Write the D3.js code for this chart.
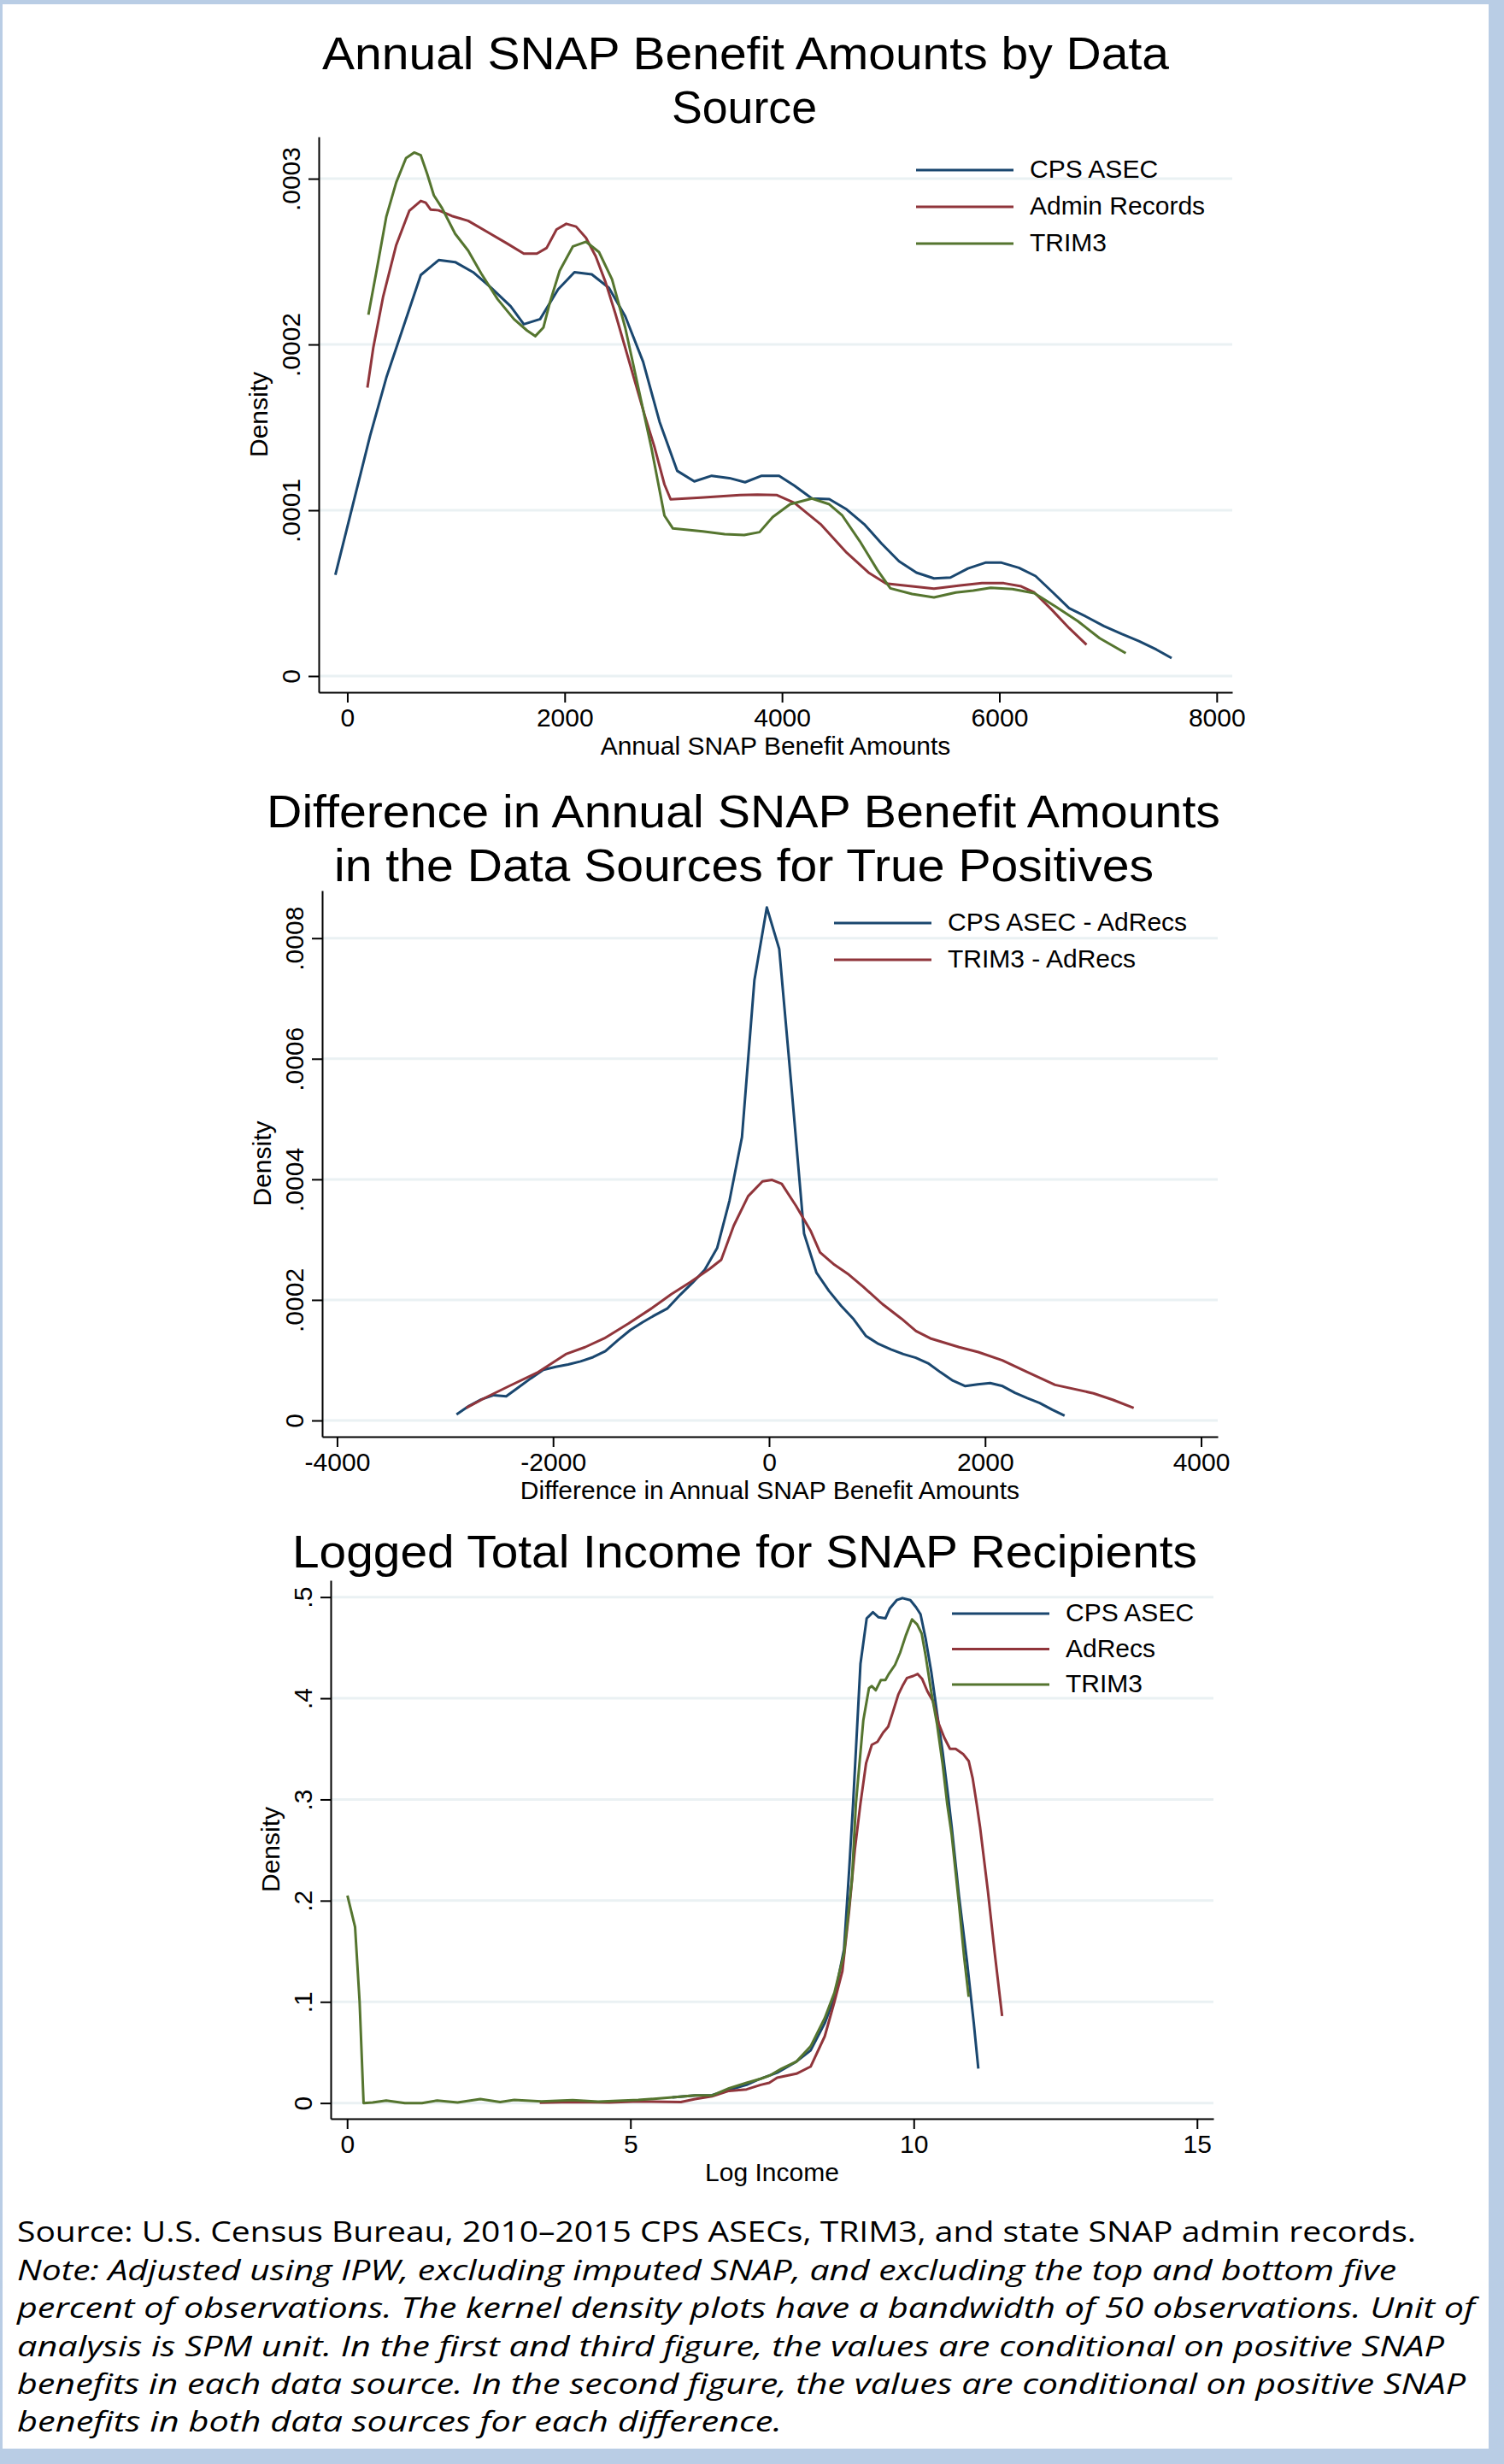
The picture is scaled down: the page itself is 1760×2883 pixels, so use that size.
<!DOCTYPE html>
<html><head><meta charset="utf-8">
<script src="https://cdn.jsdelivr.net/npm/d3@7"></script>
<style>body{margin:0;background:#b9cde5}svg{display:block}</style>
</head><body>
<svg id="c" width="1760" height="2883"></svg>
<script>
// ---------- Panel 1: Annual SNAP benefit amounts (density in units of 1e-4) ----------
const p1Titles = ["Annual SNAP Benefit Amounts by Data", "Source"];
const p1XLabel = "Annual SNAP Benefit Amounts";
const p1XTicks = [0, 2000, 4000, 6000, 8000];
const p1XTickLabels = ["0", "2000", "4000", "6000", "8000"];
const p1YTicks = [0, 1, 2, 3];
const p1YTickLabels = ["0", ".0001", ".0002", ".0003"];
const p1Names = ["CPS ASEC", "Admin Records", "TRIM3"];
const p1Cps = [[-110,0.61],[209,1.448],[359,1.80],[676,2.419],[841,2.509],[992,2.497],[1157,2.436],[1323,2.342],[1503,2.230],[1624,2.122],[1774,2.153],[1940,2.333],[2090,2.436],[2249,2.423],[2407,2.342],[2557,2.170],[2722,1.895],[2873,1.534],[3035,1.238],[3193,1.174],[3353,1.208],[3516,1.194],[3660,1.169],[3813,1.208],[3973,1.208],[4114,1.148],[4275,1.071],[4435,1.067],[4595,1.005],[4756,0.916],[4916,0.799],[5077,0.692],[5237,0.624],[5398,0.589],[5550,0.594],[5711,0.649],[5871,0.684],[6020,0.684],[6180,0.653],[6333,0.603],[6493,0.504],[6642,0.409],[6802,0.357],[6963,0.301],[7124,0.254],[7284,0.211],[7444,0.160],[7585,0.108]];
const p1Admin = [[185,1.74],[239,1.981],[330,2.29],[450,2.60],[570,2.806],[676,2.866],[721,2.855],[766,2.814],[841,2.809],[962,2.775],[1112,2.746],[1293,2.677],[1473,2.608],[1624,2.548],[1744,2.548],[1834,2.582],[1925,2.694],[2015,2.728],[2105,2.711],[2196,2.643],[2286,2.531],[2376,2.376],[2466,2.187],[2557,1.981],[2647,1.775],[2738,1.569],[2827,1.380],[2918,1.156],[2975,1.066],[3251,1.076],[3612,1.091],[3773,1.094],[3954,1.091],[4114,1.045],[4355,0.916],[4595,0.744],[4796,0.624],[4957,0.558],[5197,0.541],[5398,0.527],[5639,0.546],[5840,0.560],[6040,0.560],[6201,0.541],[6321,0.504],[6482,0.40],[6642,0.289],[6802,0.189]];
const p1Trim = [[194,2.179],[269,2.445],[359,2.772],[450,2.978],[540,3.124],[615,3.158],[676,3.141],[735,3.029],[796,2.900],[871,2.823],[992,2.668],[1112,2.566],[1232,2.428],[1383,2.273],[1533,2.153],[1654,2.084],[1729,2.050],[1804,2.102],[1865,2.256],[1954,2.445],[2075,2.591],[2196,2.620],[2316,2.557],[2436,2.393],[2557,2.102],[2677,1.741],[2797,1.380],[2918,0.968],[2996,0.890],[3271,0.873],[3472,0.856],[3652,0.851],[3793,0.868],[3914,0.959],[4074,1.036],[4275,1.071],[4435,1.036],[4555,0.968],[4716,0.813],[4876,0.641],[4997,0.529],[5197,0.495],[5398,0.474],[5599,0.504],[5759,0.515],[5920,0.532],[6120,0.524],[6321,0.500],[6521,0.418],[6722,0.331],[6923,0.228],[7163,0.138]];

// ---------- Panel 2: Difference in benefit amounts (density in units of 1e-4) ----------
const p2Titles = ["Difference in Annual SNAP Benefit Amounts", "in the Data Sources for True Positives"];
const p2XLabel = "Difference in Annual SNAP Benefit Amounts";
const p2XTicks = [-4000, -2000, 0, 2000, 4000];
const p2XTickLabels = ["-4000", "-2000", "0", "2000", "4000"];
const p2YTicks = [0, 2, 4, 6, 8];
const p2YTickLabels = ["0", ".0002", ".0004", ".0006", ".0008"];
const p2Names = ["CPS ASEC - AdRecs", "TRIM3 - AdRecs"];
const p2Cps = [[-2894,0.10],[-2779,0.24],[-2664,0.35],[-2549,0.42],[-2434,0.40],[-2320,0.55],[-2205,0.70],[-2090,0.84],[-1975,0.89],[-1860,0.93],[-1745,0.98],[-1630,1.05],[-1515,1.15],[-1400,1.33],[-1285,1.50],[-1170,1.63],[-1055,1.75],[-940,1.86],[-826,2.08],[-711,2.28],[-596,2.50],[-481,2.86],[-366,3.65],[-251,4.70],[-136,7.30],[-21,8.51],[94,7.82],[209,5.50],[324,3.10],[439,2.45],[554,2.15],[668,1.90],[783,1.68],[898,1.40],[1013,1.27],[1128,1.18],[1243,1.10],[1358,1.04],[1472,0.95],[1587,0.80],[1702,0.66],[1817,0.57],[1932,0.60],[2047,0.62],[2162,0.57],[2276,0.46],[2391,0.37],[2506,0.29],[2621,0.18],[2736,0.08]];
const p2Trim = [[-2805,0.207],[-2637,0.369],[-2415,0.564],[-2148,0.792],[-1882,1.10],[-1704,1.216],[-1526,1.362],[-1304,1.606],[-1082,1.867],[-905,2.095],[-727,2.298],[-549,2.517],[-443,2.665],[-327,3.233],[-194,3.72],[-61,3.966],[28,3.99],[117,3.925],[250,3.559],[383,3.152],[472,2.787],[605,2.583],[738,2.42],[872,2.217],[1049,1.932],[1226,1.688],[1360,1.484],[1493,1.362],[1760,1.216],[1937,1.135],[2159,0.997],[2382,0.809],[2648,0.59],[3003,0.451],[3181,0.344],[3376,0.207]];

// ---------- Panel 3: Logged total income ----------
const p3Titles = ["Logged Total Income for SNAP Recipients"];
const p3XLabel = "Log Income";
const p3XTicks = [0, 5, 10, 15];
const p3XTickLabels = ["0", "5", "10", "15"];
const p3YTicks = [0, 0.1, 0.2, 0.3, 0.4, 0.5];
const p3YTickLabels = ["0", ".1", ".2", ".3", ".4", ".5"];
const p3Names = ["CPS ASEC", "AdRecs", "TRIM3"];
const p3Cps = [[5.74,0.0056],[6.14,0.0075],[6.44,0.0078],[6.74,0.013],[7.05,0.018],[7.25,0.023],[7.59,0.030],[7.93,0.041],[8.18,0.052],[8.43,0.079],[8.60,0.104],[8.77,0.152],[8.86,0.230],[8.93,0.296],[9.06,0.434],[9.17,0.479],[9.28,0.485],[9.38,0.480],[9.50,0.479],[9.58,0.489],[9.70,0.497],[9.80,0.499],[9.94,0.497],[10.04,0.490],[10.12,0.483],[10.21,0.459],[10.31,0.426],[10.41,0.386],[10.51,0.347],[10.61,0.302],[10.67,0.273],[10.80,0.204],[10.94,0.140],[11.06,0.079],[11.14,0.034]];
const p3Admin = [[3.40,0.0003],[3.98,0.001],[4.63,0.0005],[5.14,0.0016],[5.89,0.001],[6.14,0.004],[6.44,0.0067],[6.74,0.012],[7.05,0.0135],[7.30,0.018],[7.45,0.020],[7.59,0.025],[7.93,0.029],[8.18,0.036],[8.43,0.066],[8.60,0.10],[8.74,0.13],[8.86,0.19],[8.96,0.25],[9.06,0.296],[9.16,0.336],[9.26,0.354],[9.36,0.357],[9.46,0.366],[9.55,0.372],[9.63,0.386],[9.73,0.404],[9.80,0.412],[9.88,0.420],[9.99,0.422],[10.07,0.424],[10.15,0.419],[10.24,0.407],[10.34,0.397],[10.44,0.375],[10.54,0.361],[10.64,0.350],[10.74,0.350],[10.87,0.345],[10.97,0.338],[11.04,0.321],[11.11,0.296],[11.17,0.273],[11.31,0.209],[11.43,0.148],[11.56,0.086]];
const p3Trim = [[0.005,0.205],[0.14,0.174],[0.22,0.10],[0.29,0.0],[0.45,0.0005],[0.69,0.0025],[1.02,0.0],[1.32,0.0],[1.59,0.0025],[1.95,0.0005],[2.35,0.004],[2.70,0.001],[2.95,0.003],[3.43,0.0017],[3.98,0.0028],[4.43,0.0013],[5.14,0.003],[5.74,0.0056],[6.14,0.0075],[6.44,0.0075],[6.74,0.0146],[7.05,0.020],[7.30,0.024],[7.45,0.027],[7.67,0.034],[7.93,0.041],[8.18,0.056],[8.43,0.084],[8.60,0.109],[8.77,0.148],[8.91,0.221],[8.98,0.296],[9.11,0.378],[9.21,0.410],[9.26,0.412],[9.33,0.408],[9.42,0.418],[9.50,0.418],[9.56,0.424],[9.67,0.433],[9.76,0.445],[9.86,0.462],[9.97,0.478],[10.06,0.473],[10.14,0.464],[10.21,0.442],[10.31,0.406],[10.41,0.375],[10.51,0.335],[10.59,0.296],[10.67,0.265],[10.80,0.196],[10.89,0.144],[10.97,0.105]];

// ---------- Footnote ----------
const noteLines = [
  "Source: U.S. Census Bureau, 2010\u20132015 CPS ASECs, TRIM3, and state SNAP admin records.",
  "Note: Adjusted using IPW, excluding imputed SNAP, and excluding the top and bottom five",
  "percent of observations. The kernel density plots have a bandwidth of 50 observations. Unit of",
  "analysis is SPM unit. In the first and third figure, the values are conditional on positive SNAP",
  "benefits in each data source. In the second figure, the values are conditional on positive SNAP",
  "benefits in both data sources for each difference."
];

// ---------- Styling / layout ----------
const NAVY = "#1a476f", MAROON = "#90353b", GREEN = "#55752f";
const AXIS_FONT = "'Liberation Sans', Arial, sans-serif";
const TITLE_FONT = "'Liberation Sans', Arial, sans-serif";
const TEXT_FONT = "'Open Sans', 'Noto Sans', sans-serif";

const svg = d3.select("#c");
svg.append("rect").attr("width", 1760).attr("height", 2883).attr("fill", "#b9cde5");
svg.append("rect").attr("x", 3).attr("y", 5).attr("width", 1739).attr("height", 2860).attr("fill", "#ffffff");

const panels = [
  { titles: p1Titles, titleBase: [81, 143.5], titleX: [377, 786], titleW: [991, 170],
    left: 373, right: 1442, top: 160, bottom: 810,
    xDomain: [-263, 8143], yDomain: [-0.098, 3.253],
    xTicks: p1XTicks, xTickLabels: p1XTickLabels, yTicks: p1YTicks, yTickLabels: p1YTickLabels,
    xLabel: p1XLabel,
    series: [{ data: p1Cps, color: NAVY }, { data: p1Admin, color: MAROON }, { data: p1Trim, color: GREEN }],
    names: p1Names, legX: 1072, legY: 199, legStep: 43 },
  { titles: p2Titles, titleBase: [968, 1031], titleX: [312, 391], titleW: [1116, 959],
    left: 377, right: 1425, top: 1042, bottom: 1681,
    xDomain: [-4138, 4154], yDomain: [-0.269, 8.79],
    xTicks: p2XTicks, xTickLabels: p2XTickLabels, yTicks: p2YTicks, yTickLabels: p2YTickLabels,
    xLabel: p2XLabel,
    series: [{ data: p2Cps, color: NAVY }, { data: p2Trim, color: MAROON }],
    names: p2Names, legX: 976, legY: 1080, legStep: 43 },
  { titles: p3Titles, titleBase: [1834], titleX: [342], titleW: [1059],
    left: 387, right: 1420, top: 1849, bottom: 2479,
    xDomain: [-0.29, 15.29], yDomain: [-0.0155, 0.5166],
    xTicks: p3XTicks, xTickLabels: p3XTickLabels, yTicks: p3YTicks, yTickLabels: p3YTickLabels,
    xLabel: p3XLabel,
    series: [{ data: p3Cps, color: NAVY }, { data: p3Admin, color: MAROON }, { data: p3Trim, color: GREEN }],
    names: p3Names, legX: 1114, legY: 1888, legStep: 41.5 }
];

panels.forEach(p => {
  const g = svg.append("g");
  const x = d3.scaleLinear().domain(p.xDomain).range([p.left, p.right]);
  const y = d3.scaleLinear().domain(p.yDomain).range([p.bottom, p.top]);

  // title lines
  p.titles.forEach((t, i) => {
    g.append("text").attr("x", p.titleX[i]).attr("y", p.titleBase[i])
      .attr("font-family", TITLE_FONT).attr("font-size", 53).attr("fill", "#000")
      .attr("textLength", p.titleW[i]).attr("lengthAdjust", "spacingAndGlyphs").text(t);
  });

  // gridlines
  g.append("g").selectAll("line").data(p.yTicks).join("line")
    .attr("x1", p.left).attr("x2", p.right)
    .attr("y1", d => y(d)).attr("y2", d => y(d))
    .attr("stroke", "#eaf1f3").attr("stroke-width", 3);

  // series
  const line = d3.line().x(d => x(d[0])).y(d => y(d[1]));
  p.series.forEach(s => {
    g.append("path").datum(s.data).attr("d", line)
      .attr("fill", "none").attr("stroke", s.color).attr("stroke-width", 3)
      .attr("stroke-linejoin", "round").attr("stroke-linecap", "butt");
  });

  // y axis
  const yAx = g.append("g").attr("transform", `translate(${p.left},0)`)
    .call(d3.axisLeft(y).tickValues(p.yTicks).tickFormat((d, i) => p.yTickLabels[i]).tickSize(12).tickSizeOuter(0));
  yAx.select(".domain").attr("stroke", "#000").attr("stroke-width", 2);
  yAx.selectAll(".tick line").attr("stroke", "#000").attr("stroke-width", 2);
  yAx.selectAll(".tick text").attr("x", null).attr("dy", null)
    .attr("text-anchor", "middle").attr("transform", "translate(-22,0) rotate(-90)")
    .attr("font-family", AXIS_FONT).attr("font-size", 30).attr("fill", "#000");

  // x axis
  const xAx = g.append("g").attr("transform", `translate(0,${p.bottom})`)
    .call(d3.axisBottom(x).tickValues(p.xTicks).tickFormat((d, i) => p.xTickLabels[i]).tickSize(12).tickSizeOuter(0));
  xAx.select(".domain").attr("stroke", "#000").attr("stroke-width", 2);
  xAx.selectAll(".tick line").attr("stroke", "#000").attr("stroke-width", 2);
  xAx.selectAll(".tick text").attr("y", 40).attr("dy", null)
    .attr("font-family", AXIS_FONT).attr("font-size", 30).attr("fill", "#000");

  // axis titles
  g.append("text").attr("x", (p.left + p.right) / 2).attr("y", p.bottom + 73)
    .attr("text-anchor", "middle").attr("font-family", AXIS_FONT).attr("font-size", 30).text(p.xLabel);
  g.append("text").attr("transform", `translate(${p.left - 60},${(p.top + p.bottom) / 2}) rotate(-90)`)
    .attr("text-anchor", "middle").attr("font-family", AXIS_FONT).attr("font-size", 30).text("Density");

  // legend
  p.names.forEach((n, i) => {
    const ly = p.legY + i * p.legStep;
    g.append("line").attr("x1", p.legX).attr("x2", p.legX + 114).attr("y1", ly).attr("y2", ly)
      .attr("stroke", p.series[i].color).attr("stroke-width", 3);
    g.append("text").attr("x", p.legX + 133).attr("y", ly + 9)
      .attr("font-family", AXIS_FONT).attr("font-size", 30).text(n);
  });
});

// footnote
const noteBase = [2623, 2668, 2712, 2757, 2801, 2845];
const noteW = [1637, 1614, 1706, 1670, 1695, 895];
const note = svg.append("text").attr("font-family", TEXT_FONT).attr("font-size", 33).attr("fill", "#000");
noteLines.forEach((t, i) => {
  note.append("tspan").attr("x", 20).attr("y", noteBase[i])
    .attr("font-style", i === 0 ? "normal" : "italic")
    .attr("textLength", noteW[i]).attr("lengthAdjust", "spacingAndGlyphs").text(t);
});
</script>
</body></html>
